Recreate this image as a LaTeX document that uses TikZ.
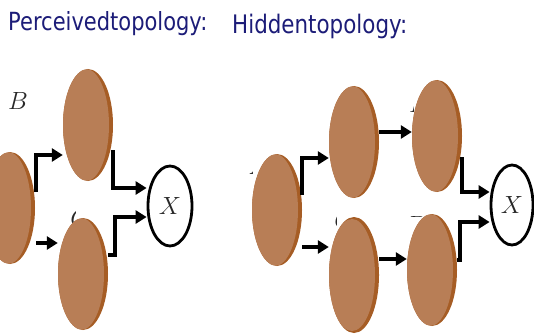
\documentclass[tikz,border=0pt]{standalone}
\usepackage{fontspec}
\newfontfamily\titlefont[FakeStretch=0.84]{DejaVu Sans}
\usetikzlibrary{shapes.geometric,arrows.meta}
\definecolor{titleblue}{RGB}{28,28,120}
\definecolor{disclight}{RGB}{184,126,86}
\definecolor{discdark}{RGB}{166,93,37}
\definecolor{labelgray}{RGB}{40,40,40}
\tikzset{
  disc/.style={ellipse, minimum width=50pt, minimum height=112pt, inner sep=0pt, fill=discdark,
    path picture={\fill[disclight] ([xshift=-2pt]path picture bounding box.center) ellipse (23pt and 56pt);}},
  target/.style={ellipse, draw=black, line width=2.8pt, minimum width=44pt, minimum height=80pt,
    inner sep=0pt, text=labelgray, font=\fontsize{38}{38}\selectfont},
  arr/.style={line width=4pt, line join=miter, -{Triangle[length=11pt,width=13pt]}},
  title/.style={anchor=base west, text=titleblue, inner sep=0pt},
  lab/.style={text=labelgray, inner sep=0pt, font=\fontsize{40}{40}\selectfont}
}
\begin{document}
\begin{tikzpicture}[x=1pt,y=1pt]
\useasboundingbox[fill=white] (0,0) rectangle (534,-334);
% titles
\node[title, font=\titlefont\fontsize{25}{25}\selectfont] (t1) at (8,-31) {Perceivedtopology:};
\node[title, font=\titlefont\fontsize{25.5}{25.5}\selectfont] (t2) at (232,-34) {Hiddentopology:};
% labels (partly hidden)
\node[lab] (lB) at (18,-101) {$B$};
\begin{scope}\clip (60,-203) rectangle (75,-230); \node[lab] (lC) at (80,-218) {$C$}; \end{scope}
\begin{scope}\clip (240,-168) rectangle (252,-185) (256,-150) rectangle (264,-155); \node[lab] (rA) at (258,-166) {$A$}; \end{scope}
\begin{scope}\clip (400,-88) rectangle (413,-120); \node[lab] (rB) at (419,-104) {$B$}; \end{scope}
\begin{scope}\clip (325,-205) rectangle (336,-235); \node[lab] (rC) at (344,-220) {$C$}; \end{scope}
\begin{scope}\clip (409,-209) rectangle (423,-216) (401,-234) rectangle (408,-241); \node[lab] (rD) at (416,-225) {$D$}; \end{scope}
% left discs
\node[disc] (A1) at (10,-208) {};
\node[disc] (B1) at (88,-125) {};
\node[disc] (C1) at (83,-274) {};
\node[target] (X1) at (170,-206) {$X$};
% right discs
\node[disc] (A2) at (277,-210) {};
\node[disc] (BB1) at (354,-142) {};
\node[disc] (BB2) at (437,-136) {};
\node[disc, minimum height=116pt] (CC1) at (354,-275) {};
\node[disc] (CC2) at (432,-270) {};
\node[target, minimum width=42pt] (X2) at (512,-205) {$X$};
% left arrows
\draw[arr] ([shift={(1,16)}]A1.east) |- ([yshift=-30]B1.west);
\draw[arr] ([shift={(1,-35)}]A1.east) -- ([yshift=31]C1.west);
\draw[arr] ([yshift=-25]B1.east) |- ([yshift=18]X1.west);
\draw[arr] ([yshift=19]C1.east) -- ++(7,0) |- ([yshift=-11]X1.west);
% right arrows
\draw[arr] ([yshift=15]A2.east) |- ([yshift=-16]BB1.west);
\draw[arr] ([yshift=-37]A2.east) -- ([yshift=28]CC1.west);
\draw[arr] ([yshift=10]BB1.east) -- ([yshift=4]BB2.west);
\draw[arr] ([yshift=16]CC1.east) -- ([yshift=11]CC2.west);
\draw[arr] ([yshift=-21]BB2.east) |- ([yshift=13]X2.west);
\draw[arr] ([yshift=10]CC2.east) -- ++(3,0) |- ([yshift=-17]X2.west);
\end{tikzpicture}
\end{document}
